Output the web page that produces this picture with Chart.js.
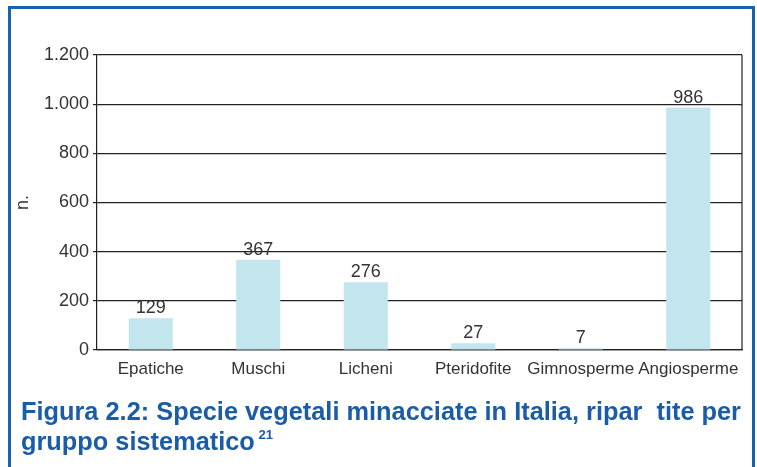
<!DOCTYPE html>
<html>
<head>
<meta charset="utf-8">
<script src="https://cdn.jsdelivr.net/npm/chart.js@4/dist/chart.umd.min.js"></script>
<style>
  html, body { margin: 0; padding: 0; background: #fff; width: 757px; height: 467px; overflow: hidden; }
  #frame { position: absolute; left: 8px; top: 6px; width: 741px; height: 470px; border: 3px solid #1763b3; border-bottom: none; }
  #wrap { position: absolute; left: 0; top: 0; width: 757px; height: 400px; }
  #title { position: absolute; left: 21px; top: 396px; color: #1a5ca8;
    font-family: "Liberation Sans", Arial, sans-serif;
    font-weight: bold; font-size: 25px; line-height: 30px; transform-origin: 0 0; white-space: nowrap; }
  #title .l1 { text-align: justify; text-align-last: justify; }
  #title sup { font-size: 13px; vertical-align: 11px; line-height: 0; }
</style>
</head>
<body>
<div id="frame"></div>
<div id="wrap"><canvas id="c" width="757" height="400"></canvas></div>
<div id="title">
  <div class="l1"><span id="t1">Figura 2.2: Specie vegetali minacciate in Italia, ripar&nbsp;&nbsp;tite per</span></div>
  <div class="l2">gruppo sistematico<sup> 21</sup></div>
</div>
<script>
const categories = ["Epatiche", "Muschi", "Licheni", "Pteridofite", "Gimnosperme", "Angiosperme"];
const speciesCounts = [129, 367, 276, 27, 7, 986];
const yTicks = [0, 200, 400, 600, 800, 1000, 1200];
const yTitle = "n.";

// fit caption line 1 to 720px (condensed look)
(function () {
  const t = document.getElementById("title");
  const w = document.getElementById("t1").getBoundingClientRect().width;
  const k = 720 / w;
  t.style.width = w + "px";
  t.style.transform = "scaleX(" + k + ")";
})();

const FONT = "'Liberation Sans', Arial, sans-serif";
const TEXT = "#333333";

const valueLabels = {
  id: "valueLabels",
  afterDatasetsDraw(chart) {
    const ctx = chart.ctx;
    const meta = chart.getDatasetMeta(0);
    ctx.save();
    ctx.font = "18px " + FONT;
    ctx.fillStyle = TEXT;
    ctx.textAlign = "center";
    ctx.textBaseline = "bottom";
    meta.data.forEach((bar, i) => {
      ctx.fillText(String(speciesCounts[i]), bar.x, bar.y - 1);
    });
    ctx.restore();
  }
};
const rightEdge = {
  id: "rightEdge",
  afterDraw(chart) {
    const a = chart.chartArea, ctx = chart.ctx;
    ctx.save();
    ctx.strokeStyle = "#222";
    ctx.lineWidth = 1.2;
    ctx.beginPath();
    ctx.moveTo(a.right, a.top);
    ctx.lineTo(a.right, a.bottom);
    ctx.stroke();
    ctx.restore();
  }
};

new Chart(document.getElementById("c"), {
  type: "bar",
  data: {
    labels: categories,
    datasets: [{
      data: speciesCounts,
      backgroundColor: "#c3e5ee",
      borderWidth: 0,
      barPercentage: 1,
      categoryPercentage: 0.41
    }]
  },
  options: {
    responsive: false,
    animation: false,
    devicePixelRatio: 1,
    layout: { padding: { top: 55, right: 15, left: 8, bottom: 0 } },
    plugins: { legend: { display: false }, tooltip: { enabled: false } },
    scales: {
      x: {
        grid: { display: false },
        border: { display: true, color: "#222", width: 1.2 },
        ticks: { color: TEXT, font: { family: FONT, size: 17 }, padding: 1, maxRotation: 0, autoSkip: false },
        afterFit(s) { s.height = 50; }
      },
      y: {
        min: 0, max: 1200,
        afterBuildTicks(s) { s.ticks = yTicks.map(v => ({ value: v })); },
        grid: { color: "#222", lineWidth: 1.2, tickLength: 4, drawTicks: true },
        border: { display: true, color: "#222", width: 1.2 },
        ticks: {
          color: TEXT, font: { family: FONT, size: 18 }, padding: 4,
          callback: v => String(v).replace(/(\d)(?=(\d{3})+$)/g, "$1.")
        },
        title: { display: true, text: yTitle, color: TEXT, font: { family: FONT, size: 18 }, padding: { top: 4, bottom: 0 } },
        afterFit(s) { s.width = 89; }
      }
    }
  },
  plugins: [valueLabels, rightEdge]
});
</script>
</body>
</html>
